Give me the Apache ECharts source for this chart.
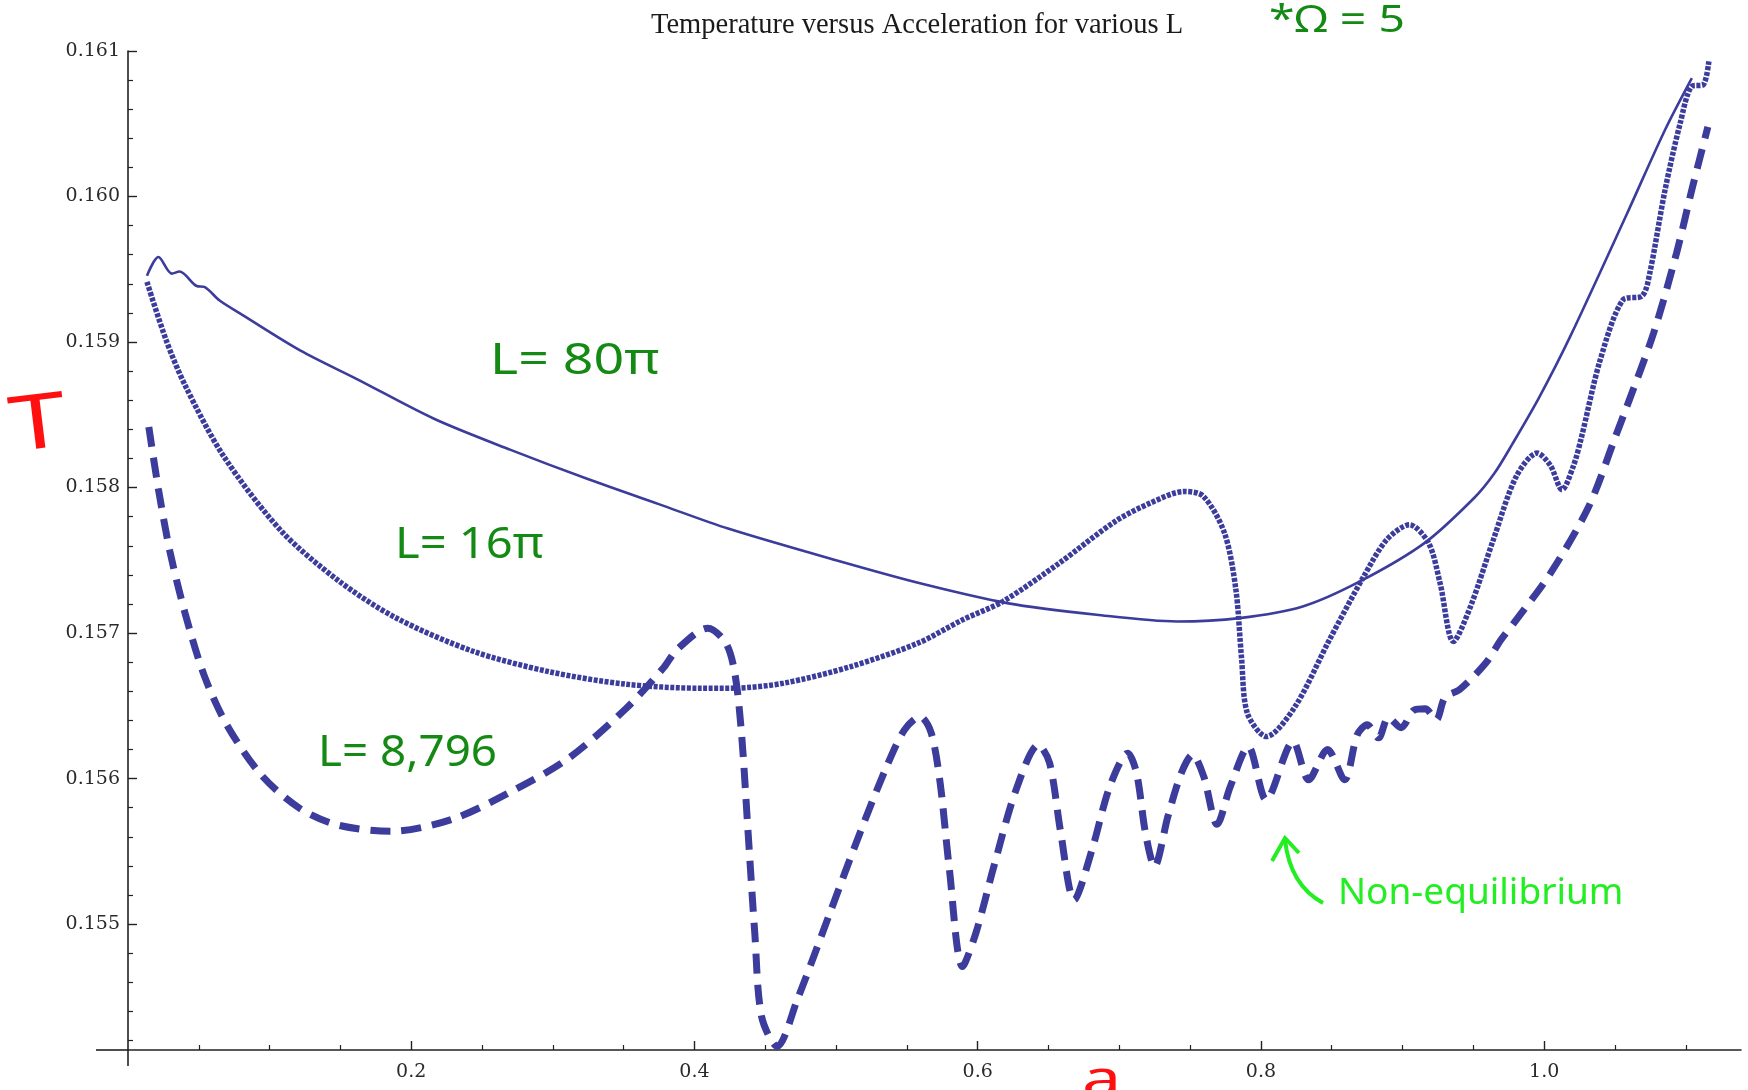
<!DOCTYPE html>
<html>
<head>
<meta charset="utf-8">
<script src="https://cdn.jsdelivr.net/npm/echarts@6/dist/echarts.min.js"></script>
<style>
html,body{margin:0;padding:0;background:#fff;}
#chart{width:1748px;height:1090px;}
</style>
</head>
<body>
<div id="chart"></div>
<script>
// ---- data (a = acceleration, T = temperature) ----
const a80 = [0.0134,0.0215,0.0309,0.0364,0.0485,0.0539,0.0647,0.081,0.1215,0.162,0.2161,0.2702,0.3242,0.3783,0.4237,0.5,0.56,0.6208,0.6839,0.7407,0.7848,0.8295,0.8699,0.9157,0.9507,0.965,0.9776,0.9965,1.018,1.0584,1.0854,1.1043];
const T80 = [0.159456,0.159584,0.15947,0.159485,0.159385,0.159379,0.159285,0.159185,0.158943,0.158744,0.158473,0.158259,0.15806,0.157874,0.157718,0.15750,0.15734,0.157206,0.157126,0.15708,0.157103,0.157183,0.157355,0.15762,0.15793,0.15810,0.15830,0.15862,0.15903,0.15988,0.160459,0.160814];

const a16 = [0.0134,0.0269,0.0404,0.0675,0.108,0.1485,0.1891,0.2431,0.2972,0.3513,0.4053,0.4285,0.4631,0.5105,0.5578,0.5893,0.6177,0.6575,0.6969,0.7217,0.7459,0.7594,0.7743,0.7823,0.7863,0.7904,0.8039,0.8241,0.8484,0.8726,0.8888,0.9049,0.9184,0.9265,0.9359,0.948,0.9641,0.9803,0.9951,1.0045,1.0126,1.0207,1.0262,1.0396,1.0558,1.0693,1.0746,1.0854,1.0961,1.1043,1.1123,1.1163];
const T16 = [0.159413,0.159014,0.158701,0.158216,0.157704,0.157361,0.157105,0.156877,0.156735,0.156649,0.156621,0.156622,0.156656,0.15677,0.156931,0.157091,0.157217,0.15748,0.157766,0.157893,0.157973,0.15794,0.157687,0.157300,0.156830,0.15645,0.156289,0.156495,0.156954,0.157389,0.157641,0.157744,0.157619,0.157344,0.156942,0.157183,0.157641,0.158076,0.158237,0.15815,0.157985,0.15815,0.15834,0.158878,0.159291,0.159318,0.159474,0.160047,0.160505,0.160757,0.160768,0.160929];

const a8 = [0.0147,0.0215,0.0296,0.0404,0.0539,0.0701,0.0944,0.1215,0.1485,0.1864,0.2296,0.2702,0.3107,0.3513,0.3783,0.3875,0.4095,0.4222,0.4285,0.4332,0.4379,0.4426,0.4474,0.4584,0.4726,0.4947,0.5168,0.5357,0.5483,0.5593,0.5672,0.5735,0.5798,0.5893,0.5987,0.6114,0.6271,0.6429,0.6508,0.6587,0.6681,0.6807,0.6933,0.706,0.7122,0.7185,0.7249,0.7343,0.7438,0.7517,0.7596,0.769,0.7784,0.7911,0.8037,0.8227,0.8337,0.847,0.8591,0.868,0.875,0.883,0.89,0.899,0.908,0.916,0.9237,0.93,0.94,0.9588,0.9695,0.9803,1.0045,1.0315,1.0504,1.0584,1.0773,1.0935,1.1043,1.1156];
const T8 = [0.158416,0.157988,0.157561,0.157133,0.156706,0.156364,0.156022,0.155794,0.15568,0.155638,0.155723,0.155909,0.156137,0.156478,0.156763,0.156885,0.157034,0.156931,0.156725,0.156313,0.155625,0.154938,0.154365,0.154159,0.15448,0.155052,0.155625,0.156083,0.156335,0.156427,0.156313,0.155969,0.155396,0.154709,0.154938,0.155396,0.155923,0.156232,0.156106,0.155625,0.155167,0.155511,0.155946,0.156175,0.156038,0.155625,0.155396,0.155739,0.156038,0.156164,0.156015,0.155686,0.155946,0.15622,0.155854,0.156255,0.155992,0.1562,0.155992,0.1563,0.15637,0.15628,0.15642,0.15635,0.15647,0.15648,0.156404,0.15656,0.15661,0.156794,0.156954,0.157091,0.157412,0.15787,0.158351,0.158557,0.159062,0.159612,0.160047,0.160478];

const xMajorTicks = [0.2,0.4,0.6,0.8,1.0];
const xMinorTicks = [0.05,0.1,0.15,0.25,0.3,0.35,0.45,0.5,0.55,0.65,0.7,0.75,0.85,0.9,0.95,1.05,1.1];
const yMajorTicks = [0.155,0.156,0.157,0.158,0.159,0.160,0.161];
const yMinorTicks = [0.1542,0.1544,0.1546,0.1548,0.1552,0.1554,0.1556,0.1558,0.1562,0.1564,0.1566,0.1568,0.1572,0.1574,0.1576,0.1578,0.1582,0.1584,0.1586,0.1588,0.1592,0.1594,0.1596,0.1598,0.1602,0.1604,0.1606,0.1608];

const titleText = 'Temperature versus Acceleration for various L';
const seriesNames = ['L = 80π','L = 16π','L = 8.796'];

const zip = (xs, ys) => xs.map((x, i) => [x, ys[i]]);
const BLUE = '#3c3c9c';
const AXIS = '#222';
const XMIN = 0, XMAX = 1.139, YMIN = 0.154135, YMAX = 0.161;
const GREEN = '#148a14', LIME = '#22ee22', RED = '#ff1010';

const chart = echarts.init(document.getElementById('chart'), null, {renderer: 'canvas'});

const baseX = {
  type: 'value', min: XMIN, max: XMAX, position: 'bottom',
  splitLine: {show: false},
  axisLine: {show: true, onZero: false, lineStyle: {color: AXIS, width: 1.6}}
};
const baseY = {
  type: 'value', min: YMIN, max: YMAX, position: 'left',
  splitLine: {show: false},
  axisLine: {show: true, onZero: false, lineStyle: {color: AXIS, width: 1.6}}
};

chart.setOption({
  animation: false,
  backgroundColor: '#fff',
  title: {
    text: titleText, left: 646, top: 6,
    textStyle: {fontFamily: 'Liberation Serif', fontSize: 28.5, fontWeight: 'normal', color: '#1a1a1a'}
  },
  grid: {left: 128, right: 7, top: 51, bottom: 40, containLabel: false},
  xAxis: [
    Object.assign({}, baseX, {
      axisTick: {show: true, inside: true, length: 9, customValues: xMajorTicks, lineStyle: {color: AXIS, width: 1.4}},
      axisLabel: {show: true, customValues: xMajorTicks, margin: 13,
        formatter: v => v.toFixed(1),
        fontFamily: 'DejaVu Serif', fontSize: 19, color: '#2a2a2a'}
    }),
    Object.assign({}, baseX, {
      axisLine: {show: false},
      axisTick: {show: true, inside: true, length: 5, customValues: xMinorTicks, lineStyle: {color: AXIS, width: 1.2}},
      axisLabel: {show: false}
    })
  ],
  yAxis: [
    Object.assign({}, baseY, {
      axisTick: {show: true, inside: true, length: 9, customValues: yMajorTicks, lineStyle: {color: AXIS, width: 1.4}},
      axisLabel: {show: true, customValues: yMajorTicks, margin: 8,
        formatter: v => v.toFixed(3),
        fontFamily: 'DejaVu Serif', fontSize: 19, color: '#2a2a2a'}
    }),
    Object.assign({}, baseY, {
      axisLine: {show: false},
      axisTick: {show: true, inside: true, length: 5, customValues: yMinorTicks, lineStyle: {color: AXIS, width: 1.2}},
      axisLabel: {show: false}
    })
  ],
  series: [
    {name: seriesNames[0], type: 'line', data: zip(a80, T80), showSymbol: false, smooth: 0.3,
     lineStyle: {color: BLUE, width: 2.6, type: 'solid'}},
    {name: seriesNames[1], type: 'line', data: zip(a16, T16), showSymbol: false, smooth: 0.3,
     lineStyle: {color: BLUE, width: 5.5, type: [4, 1.5]}},
    {name: seriesNames[2], type: 'line', data: zip(a8, T8), showSymbol: false, smooth: 0.3,
     lineStyle: {color: BLUE, width: 7, type: [20, 11]}}
  ],
  graphic: [
    // axis-line overhangs (as in the original frame)
    {type: 'line', shape: {x1: 96, y1: 1050, x2: 128, y2: 1050}, style: {stroke: AXIS, lineWidth: 1.6}},
    {type: 'line', shape: {x1: 128, y1: 1050, x2: 128, y2: 1066}, style: {stroke: AXIS, lineWidth: 1.6}},
    // hand-written annotations
    {type: 'text', x: 490, y: 361, scaleX: 1.22, style: {text: 'L= 80π', fontFamily: 'Noto Sans', fontSize: 44, fill: GREEN, verticalAlign: 'middle'}},
    {type: 'text', x: 395, y: 545, scaleX: 1.07, style: {text: 'L= 16π', fontFamily: 'Noto Sans', fontSize: 44, fill: GREEN, verticalAlign: 'middle'}},
    {type: 'text', x: 318, y: 753, scaleX: 1.04, style: {text: 'L= 8,796', fontFamily: 'Noto Sans', fontSize: 44, fill: GREEN, verticalAlign: 'middle'}},
    {type: 'text', x: 1269, y: 21, scaleX: 1.22, style: {text: '*Ω = 5', fontFamily: 'Noto Sans', fontSize: 38, fill: GREEN, verticalAlign: 'middle'}},
    {type: 'text', x: 10, y: 430, rotation: 0.12, scaleX: 1.35, style: {text: 'T', fontFamily: 'Noto Sans', fontSize: 76, fill: RED, verticalAlign: 'middle'}},
    {type: 'text', x: 1082, y: 1082, scaleX: 1.4, style: {text: 'a', fontFamily: 'Noto Sans', fontSize: 50, fill: RED, verticalAlign: 'middle'}},
    {type: 'text', x: 1338, y: 893, style: {text: 'Non-equilibrium', fontFamily: 'Noto Sans', fontSize: 37, fill: LIME, verticalAlign: 'middle'}},
    {type: 'bezierCurve', shape: {x1: 1323, y1: 903, x2: 1285, y2: 840, cpx1: 1290, cpy1: 885}, style: {stroke: LIME, lineWidth: 4, fill: null}},
    {type: 'polyline', shape: {points: [[1272, 861], [1285, 838], [1299, 853]]}, style: {stroke: LIME, lineWidth: 4, fill: null}}
  ]
});
</script>
</body>
</html>
